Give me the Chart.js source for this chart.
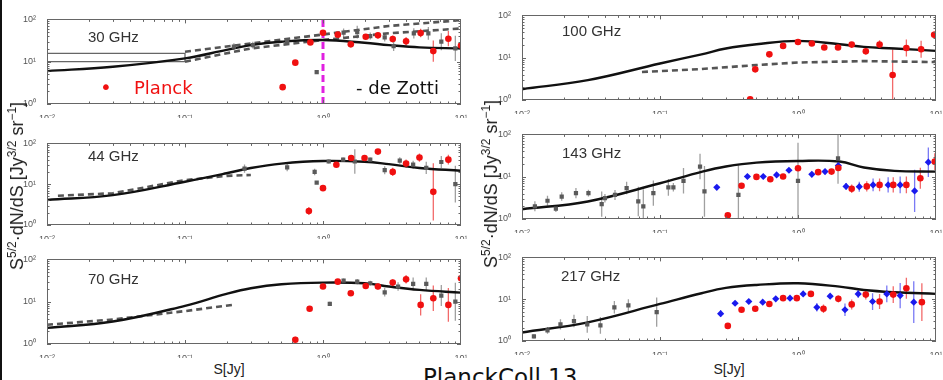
<!DOCTYPE html>
<html>
<head>
<meta charset="utf-8">
<script src="https://cdn.jsdelivr.net/npm/chart.js@4.4.1/dist/chart.umd.min.js"></script>
<style>
  body { margin: 0; width: 943px; height: 380px; overflow: hidden; background: #fff; position: relative;
         font-family: "Liberation Sans", Arial, sans-serif; }
  canvas { position: absolute; }
  .t { position: absolute; white-space: nowrap; line-height: 1; }
  .freq { font-size: 15px; color: #333; }
  .ytitle { font-size: 18px; color: #222; transform: translate(-50%, -50%) rotate(-90deg); }
  .ytitle sup { font-size: 12px; }
  .xtitle { font-size: 14px; color: #222; transform: translateX(-50%); }
  .big { font-family: "DejaVu Sans", Verdana, sans-serif; }
</style>
</head>
<body>
<div style="position:absolute;left:0;top:0;width:2px;height:380px;background:#111"></div>

<canvas id="c30" width="454" height="107" style="left:17px;top:11px"></canvas>
<canvas id="c44" width="454" height="104" style="left:17px;top:135px"></canvas>
<canvas id="c70" width="454" height="107" style="left:17px;top:251px"></canvas>
<canvas id="c100" width="454" height="107" style="left:492px;top:7px"></canvas>
<canvas id="c143" width="454" height="107" style="left:492px;top:126px"></canvas>
<canvas id="c217" width="454" height="106" style="left:492px;top:249px"></canvas>

<div class="t freq" style="left:88px;top:29px">30 GHz</div>
<div class="t freq" style="left:88px;top:148px">44 GHz</div>
<div class="t freq" style="left:88px;top:271px">70 GHz</div>
<div class="t freq" style="left:562px;top:23px">100 GHz</div>
<div class="t freq" style="left:562px;top:145px">143 GHz</div>
<div class="t freq" style="left:561px;top:268px">217 GHz</div>

<div class="t big" style="left:100px;top:77px;font-size:20px;color:#f01010">•</div>
<div class="t big" style="left:134px;top:79px;font-size:18px;color:#f01010">Planck</div>
<div class="t big" style="left:356px;top:79px;font-size:18px;color:#111">- de Zotti</div>

<div class="t ytitle" style="left:16px;top:186px">S<sup>5/2</sup>·dN/dS [Jy<sup>3/2</sup> sr<sup>−1</sup>]</div>
<div class="t ytitle" style="left:490px;top:184px">S<sup>5/2</sup>·dN/dS [Jy<sup>3/2</sup> sr<sup>−1</sup>]</div>
<div class="t xtitle" style="left:229px;top:362px">S[Jy]</div>
<div class="t xtitle" style="left:729px;top:362px">S[Jy]</div>
<div class="t big" style="left:423px;top:366px;font-size:23px;color:#111">PlanckColl 13</div>

<script>
// axis ticks
const xTicks = [0.01, 0.1, 1, 10];
const xTickLabels = ['10⁻²', '10⁻¹', '10⁰', '10¹'];
const yTicks = [1, 10, 100];
const yTickLabels = ['10⁰', '10¹', '10²'];

// model curves (black), sampled flux grid
const modelS = [0.01, 0.03, 0.1, 0.2, 0.3, 0.5, 1, 2, 3, 5, 10];
const model30 = [6.0, 7.6, 12, 19, 24.7, 29.7, 32.5, 28, 24.7, 21.8, 20.6];
const model44 = [4.1, 5.4, 11.5, 18.5, 25, 32, 37, 35.5, 31, 25, 21.4];
const model70 = [2.4, 3.4, 8, 15.3, 20.8, 25.8, 28.3, 27.3, 22.8, 19, 16.4];
const model100 = [1.8, 2.95, 7.3, 12, 16.5, 20.8, 25, 20.8, 18, 16.5, 14.5];
const model143 = [1.7, 2.6, 7, 13, 17.4, 21.5, 23.5, 22.8, 16.5, 13.7, 13.2];
const model217 = [1.6, 2.8, 7.7, 13.9, 18.6, 21.9, 24, 20, 16.6, 14.7, 13.4];

// de Zotti dashed curves
const dzUpS30 = [0.1, 0.3, 1, 3, 10];
const dzUp30 = [17.2, 27, 44, 70, 96];
const dzLoS30 = [0.1, 0.3, 1, 3, 10];
const dzLo30 = [10, 20.6, 32.5, 47, 61];
const boxS30 = [0.01, 0.1, 0.1, 0.01];
const box30 = [15.7, 15.7, 10, 10];
const dzS44 = [0.012, 0.03, 0.1, 0.2, 0.3];
const dz44 = [5.2, 6, 12.6, 16, 16.8];
const dzS70 = [0.01, 0.03, 0.1, 0.22];
const dz70 = [2.85, 3.8, 6.0, 8.4];
const dzS100 = [0.074, 0.2, 0.5, 1, 3, 10];
const dz100 = [4.6, 5.4, 6.7, 7.7, 8.3, 7.9];

// 30 GHz
const redS30 = [0.51, 0.63, 0.81, 1.0, 1.28, 1.59, 2.04, 2.5, 3.2, 4.0, 5.1, 6.3, 8.1, 10];
const red30 = [2.5, 9.5, 28.6, 48.5, 43.6, 25.7, 39, 42, 34.4, 30.3, 47.5, 17.8, 35, 24];
const redErr30 = [0.04, 0.04, 0.04, 0.05, 0.05, 0.06, 0.06, 0.07, 0.08, 0.1, 0.1, 0.25, 0.18, 0.2];
const grayS30 = [0.226, 0.31, 0.55, 0.9, 1.41, 1.77, 2.2, 2.8, 3.25, 4.55, 5.8, 7.2, 9.1];
const gray30 = [22.6, 24.7, 29.7, 5.7, 48.5, 50, 40.5, 37.6, 23.5, 46.6, 46.6, 29.7, 20.6];
const grayErr30 = [0.08, 0.08, 0.08, 0.03, 0.1, 0.15, 0.08, 0.1, 0.12, 0.12, 0.15, 0.2, 0.3];

// 44 GHz
const redS44 = [0.79, 1.0, 1.25, 1.6, 2.0, 2.5, 3.2, 4.0, 5.0, 6.3, 8.1];
const red44 = [2.2, 8, 30, 44, 44, 63, 20, 32, 45, 6.5, 40];
const redErr44 = [0.1, 0.04, 0.04, 0.04, 0.04, 0.04, 0.1, 0.1, 0.1, 0.7, 0.12];
const grayS44 = [0.27, 0.55, 0.87, 0.9, 1.1, 1.4, 1.7, 2.2, 2.8, 3.6, 4.5, 5.6, 7.2, 9.1];
const gray44 = [24, 26, 20, 11, 36, 40, 36, 40, 22, 38, 30, 25, 35, 10];
const grayErr44 = [0.1, 0.1, 0.08, 0.03, 0.05, 0.05, 0.3, 0.05, 0.1, 0.08, 0.1, 0.15, 0.15, 0.45];

// 70 GHz
const redS70 = [0.63, 0.80, 1.0, 1.28, 1.59, 2.04, 2.5, 3.2, 4.0, 5.1, 6.3, 8.1, 10];
const red70 = [1.26, 6.8, 22.8, 29.8, 15.8, 23.6, 22.8, 28.3, 33.8, 8.4, 12.1, 8.4, 35.7];
const redErr70 = [0.07, 0.05, 0.05, 0.04, 0.05, 0.05, 0.07, 0.08, 0.1, 0.25, 0.3, 0.4, 0.1];
const grayS70 = [1.12, 1.41, 1.77, 2.2, 2.8, 3.5, 4.5, 5.6, 7.2, 9.1];
const gray70 = [8.9, 31.6, 29.8, 27.3, 16.7, 22.8, 26.3, 26.3, 14, 10];
const grayErr70 = [0.05, 0.05, 0.06, 0.06, 0.1, 0.1, 0.15, 0.15, 0.25, 0.45];

// 100 GHz
const redS100 = [0.45, 0.49, 0.62, 0.78, 1.0, 1.26, 1.55, 1.95, 2.45, 3.1, 3.9, 4.85, 6.1, 7.8, 9.7];
const red100 = [1.04, 5.3, 12, 19, 23.6, 21.6, 17.4, 17.4, 20.4, 14.2, 20.4, 3.9, 17, 15.8, 35];
const redErr100 = [0.06, 0.03, 0.03, 0.03, 0.03, 0.03, 0.04, 0.04, 0.06, 0.08, 0.1, 0.6, 0.2, 0.2, 0.08];

// 143 GHz
const grayS143 = [0.0124, 0.0153, 0.0176, 0.0194, 0.0246, 0.0303, 0.0378, 0.0399, 0.0472, 0.0573, 0.0696,
                  0.0757, 0.0895, 0.115, 0.125, 0.148, 0.195, 0.21, 0.37, 1.0, 1.95];
const gray143 = [2.0, 2.7, 1.75, 3.4, 4.1, 4.1, 2.25, 3.1, 3.7, 5.4, 2.6, 2.0, 4.1, 5.6, 5.6, 8.0, 17.4, 4.5, 3.7, 8, 27];
const grayErr143 = [0.12, 0.12, 0.08, 0.1, 0.12, 0.08, 0.3, 0.1, 0.12, 0.15, 0.35, 0.4, 0.3, 0.2, 0.1, 0.3,
                    0.3, 0.6, 0.7, 0.9, 0.6];
const blueS143 = [0.258, 0.43, 0.56, 0.70, 0.86, 1.26, 1.57, 1.96, 2.23, 2.78, 3.5, 4.5, 5.5, 7.0, 8.8];
const blue143 = [5.6, 10.1, 10.1, 11, 14.2, 11.4, 13.2, 18.3, 5.9, 5.8, 6.4, 6.4, 6.4, 4.6, 22];
const blueErr143 = [0.05, 0.04, 0.04, 0.04, 0.05, 0.05, 0.06, 0.06, 0.08, 0.12, 0.15, 0.18, 0.2, 0.5, 0.35];
const redS143 = [0.31, 0.39, 0.50, 0.63, 0.78, 1.0, 1.40, 1.75, 1.96, 2.45, 3.15, 3.9, 4.9, 6.1, 7.7, 9.8];
const red143 = [1.22, 6.1, 9.9, 8.7, 10.1, 15.8, 12.8, 13.2, 16, 5.2, 5.9, 6.4, 6.4, 6.4, 9.2, 22.7];
const redErr143 = [0.05, 0.03, 0.03, 0.03, 0.03, 0.04, 0.04, 0.05, 0.06, 0.1, 0.12, 0.15, 0.18, 0.2, 0.25, 0.2];

// 217 GHz
const grayS217 = [0.0122, 0.0153, 0.019, 0.0238, 0.0297, 0.037, 0.0467, 0.059, 0.0946];
const gray217 = [1.29, 1.8, 2.5, 3.0, 2.5, 2.36, 6.4, 7.1, 4.9];
const grayErr217 = [0.05, 0.08, 0.12, 0.15, 0.2, 0.2, 0.15, 0.15, 0.35];
const blueS217 = [0.275, 0.35, 0.44, 0.555, 0.69, 0.875, 1.09, 1.37, 1.71, 2.19, 2.73, 3.47, 4.4, 5.5, 6.9];
const blue217 = [4.5, 8.0, 8.8, 8.5, 10.2, 10.6, 13.4, 6.4, 11.8, 5.6, 13.4, 8.8, 13.4, 12.2, 8.5];
const blueErr217 = [0.08, 0.05, 0.05, 0.05, 0.05, 0.05, 0.05, 0.1, 0.06, 0.15, 0.1, 0.2, 0.2, 0.3, 0.5];
const redS217 = [0.31, 0.39, 0.49, 0.62, 0.78, 0.98, 1.24, 1.53, 1.96, 2.45, 3.1, 3.9, 4.9, 6.1, 7.9];
const red217 = [2.3, 5.6, 5.9, 7.7, 10.6, 10.6, 13.4, 5.9, 10.2, 7.5, 12.9, 8.8, 12.9, 18.3, 8.5];
const redErr217 = [0.04, 0.04, 0.04, 0.04, 0.04, 0.04, 0.05, 0.1, 0.08, 0.12, 0.12, 0.18, 0.2, 0.25, 0.45];

const RED = '#f01010', BLUE = '#1a1aee', GRAY = '#5a5a5a';

const pts = (xs, ys) => xs.map((x, i) => ({ x: x, y: ys[i] }));

const model = ys => ({ data: pts(modelS, ys), showLine: true, borderColor: '#111', borderWidth: 2.4,
  tension: 0.4, pointRadius: 0 });
const dashed = (xs, ys) => ({ data: pts(xs, ys), showLine: true, borderColor: '#555', borderWidth: 2.6,
  borderDash: [6, 4], pointRadius: 0 });
const marks = (xs, ys, err, color, errColor, style, r) => ({ data: pts(xs, ys), errors: err, errorColor: errColor,
  pointStyle: style, pointRadius: r, backgroundColor: color, borderColor: color, borderWidth: 0 });
const red = (xs, ys, err) => marks(xs, ys, err, RED, '#f26a6a', 'circle', 3.3);
const blue = (xs, ys, err) => marks(xs, ys, err, BLUE, '#7a7af5', 'rectRot', 3.6);
const gray = (xs, ys, err) => marks(xs, ys, err, GRAY, '#a0a0a0', 'rect', 3);

// vertical error bars from each dataset's "errors" (half width in dex)
const errorBars = {
  id: 'errorBars',
  beforeDatasetsDraw(chart) {
    const { ctx, chartArea: a, scales: { x, y } } = chart;
    ctx.save();
    ctx.beginPath();
    ctx.rect(a.left, a.top, a.width, a.height);
    ctx.clip();
    ctx.lineWidth = 1.3;
    chart.data.datasets.forEach(ds => {
      if (!ds.errors) return;
      ctx.strokeStyle = ds.errorColor;
      ds.data.forEach((p, i) => {
        const f = Math.pow(10, ds.errors[i]);
        const px = x.getPixelForValue(p.x);
        ctx.beginPath();
        ctx.moveTo(px, y.getPixelForValue(p.y * f));
        ctx.lineTo(px, y.getPixelForValue(p.y / f));
        ctx.stroke();
      });
    });
    ctx.restore();
  }
};

// box with inward log ticks on all four sides
const frameTicks = {
  id: 'frameTicks',
  afterDraw(chart) {
    const { ctx, chartArea: a, scales: { x, y } } = chart;
    ctx.save();
    ctx.strokeStyle = '#666';
    ctx.lineWidth = 1;
    ctx.strokeRect(Math.round(a.left) + 0.5, Math.round(a.top) + 0.5, Math.round(a.width) - 1, Math.round(a.height) - 1);
    ctx.beginPath();
    xTicks.slice(0, -1).forEach(d => {
      for (let k = 1; k < 10; k++) {
        const px = Math.round(x.getPixelForValue(d * k)) + 0.5;
        const len = k === 1 ? 4 : 2.5;
        ctx.moveTo(px, a.bottom); ctx.lineTo(px, a.bottom - len);
        ctx.moveTo(px, a.top); ctx.lineTo(px, a.top + len);
      }
    });
    yTicks.slice(0, -1).forEach(d => {
      for (let k = 1; k < 10; k++) {
        const py = Math.round(y.getPixelForValue(d * k)) + 0.5;
        const len = k === 1 ? 4 : 2.5;
        ctx.moveTo(a.left, py); ctx.lineTo(a.left + len, py);
        ctx.moveTo(a.right, py); ctx.lineTo(a.right - len, py);
      }
    });
    ctx.stroke();
    ctx.restore();
  }
};

function panel(id, datasets) {
  new Chart(document.getElementById(id), {
    type: 'scatter',
    data: { datasets: datasets },
    options: {
      responsive: false,
      animation: false,
      devicePixelRatio: 1,
      layout: { padding: { top: 8, right: 10 } },
      plugins: { legend: { display: false }, tooltip: { enabled: false } },
      scales: {
        x: {
          type: 'logarithmic', min: 0.01, max: 10,
          grid: { display: false }, border: { display: false },
          afterBuildTicks: s => { s.ticks = xTicks.map(v => ({ value: v })); },
          afterFit: s => { s.height = 14; },
          ticks: { callback: (v, i) => xTickLabels[i], font: { size: 9 }, color: '#555',
            maxRotation: 0, autoSkip: false, padding: 1 }
        },
        y: {
          type: 'logarithmic', min: 1, max: 100,
          grid: { display: false }, border: { display: false },
          afterBuildTicks: s => { s.ticks = yTicks.map(v => ({ value: v })); },
          afterFit: s => { s.width = 30; },
          ticks: { callback: (v, i) => yTickLabels[i], font: { size: 9 }, color: '#555', padding: 3 }
        }
      }
    },
    plugins: [errorBars, frameTicks]
  });
}

panel('c30', [
  red(redS30, red30, redErr30),
  gray(grayS30, gray30, grayErr30),
  { data: pts([1, 1], [1, 100]), showLine: true, borderColor: '#e020e0', borderWidth: 3, borderDash: [7, 4], pointRadius: 0 },
  model(model30),
  dashed(dzUpS30, dzUp30),
  dashed(dzLoS30, dzLo30),
  { data: pts(boxS30, box30), showLine: true, borderColor: '#666', borderWidth: 1.3, pointRadius: 0 }
]);
panel('c44', [
  red(redS44, red44, redErr44),
  gray(grayS44, gray44, grayErr44),
  model(model44),
  dashed(dzS44, dz44)
]);
panel('c70', [
  red(redS70, red70, redErr70),
  gray(grayS70, gray70, grayErr70),
  model(model70),
  dashed(dzS70, dz70)
]);
panel('c100', [
  red(redS100, red100, redErr100),
  model(model100),
  dashed(dzS100, dz100)
]);
panel('c143', [
  red(redS143, red143, redErr143),
  blue(blueS143, blue143, blueErr143),
  gray(grayS143, gray143, grayErr143),
  model(model143)
]);
panel('c217', [
  red(redS217, red217, redErr217),
  blue(blueS217, blue217, blueErr217),
  gray(grayS217, gray217, grayErr217),
  model(model217)
]);
</script>
</body>
</html>
